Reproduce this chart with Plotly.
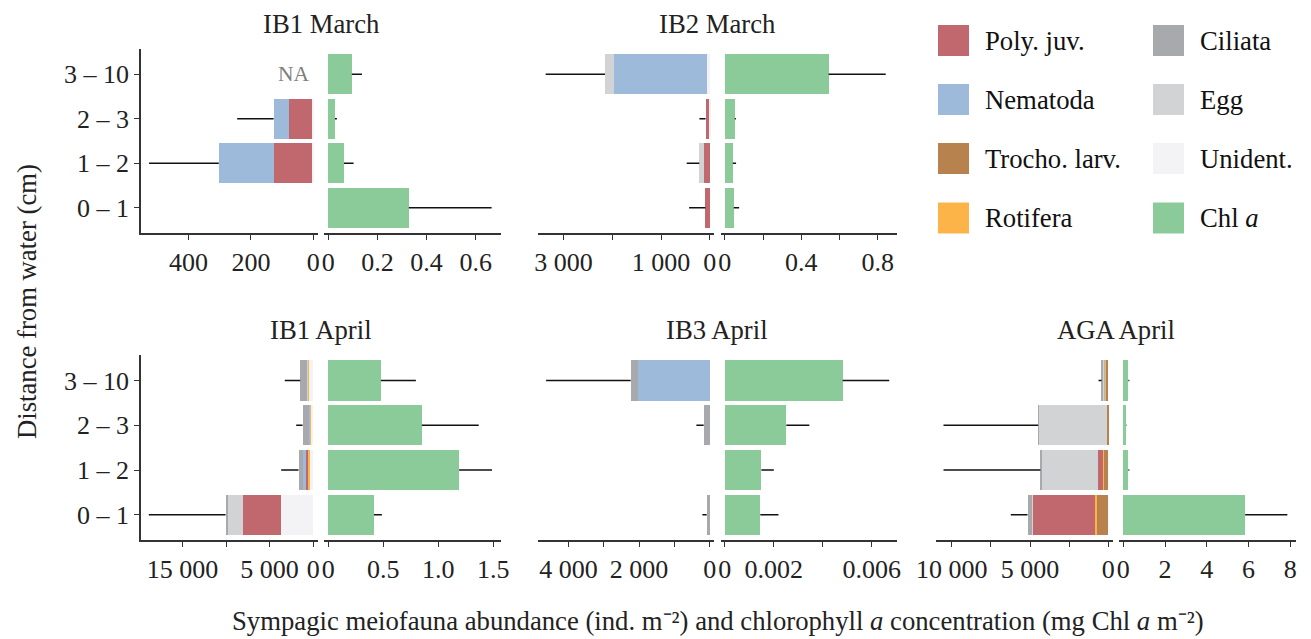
import plotly.graph_objects as go

# ---------------------------------------------------------------- data
DEPTHS = ["0 – 1", "1 – 2", "2 – 3", "3 – 10"]
DEPTH_POS = [0, 1, 2, 3]

# stacking order, from the zero line outwards
TAXA = ["Unident.", "Trocho. larv.", "Rotifera", "Poly. juv.", "Nematoda", "Egg", "Ciliata"]

COLORS = {
    "Poly. juv.": "#C0686E",
    "Nematoda": "#9EBADA",
    "Trocho. larv.": "#B7824E",
    "Rotifera": "#FCB448",
    "Ciliata": "#A8A9AD",
    "Egg": "#D2D3D5",
    "Unident.": "#F3F3F5",
    "Chl a": "#8BCB99",
}

# meiofauna abundance (ind. m-2) per depth class: 0-1, 1-2, 2-3, 3-10 cm
ib1_march_meio = {
    "Unident.": [0, 4, 4, None],
    "Poly. juv.": [0, 123, 74, None],
    "Nematoda": [0, 176, 49, None],
}
ib1_march_meio_sd = [None, 224, 117, None]
ib1_march_chl = [0.328, 0.064, 0.027, 0.096]
ib1_march_chl_sd = [0.337, 0.039, 0.008, 0.041]

ib2_march_meio = {
    "Unident.": [0, 0, 10, 62],
    "Poly. juv.": [88, 110, 75, 0],
    "Nematoda": [0, 0, 0, 1910],
    "Egg": [0, 103, 0, 178],
}
ib2_march_meio_sd = [335, 259, 126, 1218]
ib2_march_chl = [0.047, 0.042, 0.052, 0.543]
ib2_march_chl_sd = [0.028, 0.017, 0.006, 0.299]

ib1_april_meio = {
    "Unident.": [3745, 420, 300, 520],
    "Rotifera": [0, 268, 110, 120],
    "Poly. juv.": [4358, 115, 60, 30],
    "Nematoda": [0, 380, 50, 40],
    "Egg": [1758, 0, 0, 50],
    "Ciliata": [190, 500, 700, 730],
}
ib1_april_meio_sd = [8800, 1990, 730, 1770]
ib1_april_chl = [0.415, 1.189, 0.850, 0.478]
ib1_april_chl_sd = [0.072, 0.299, 0.517, 0.318]

ib3_april_meio = {
    "Nematoda": [0, 0, 0, 2040],
    "Ciliata": [85, 0, 170, 198],
}
ib3_april_meio_sd = [122, None, 207, 2397]
ib3_april_chl = [0.00145, 0.00149, 0.00251, 0.00481]
ib3_april_chl_sd = [0.00074, 0.00051, 0.00094, 0.0019]

aga_april_meio = {
    "Trocho. larv.": [703, 320, 85, 190],
    "Rotifera": [128, 30, 0, 30],
    "Poly. juv.": [4007, 320, 0, 20],
    "Nematoda": [0, 0, 0, 40],
    "Egg": [64, 3623, 4348, 60],
    "Ciliata": [256, 40, 40, 85],
}
aga_april_meio_sd = [1070, 6197, 6057, 195]
aga_april_chl = [5.84, 0.24, 0.14, 0.24]
aga_april_chl_sd = [2.02, 0.05, 0.02, 0.05]

# labelled ticks (values, labels) and unlabelled ticks per axis
ib1_march_meio_ticks = ([400, 200, 0], ["400", "200", "0"], [])
ib1_march_chl_ticks = ([0, 0.2, 0.4, 0.6], ["0", "0.2", "0.4", "0.6"], [])
ib2_march_meio_ticks = ([3000, 1000, 0], ["3 000", "1 000", "0"], [2000])
ib2_march_chl_ticks = ([0, 0.4, 0.8], ["0", "0.4", "0.8"], [0.2, 0.6])
ib1_april_meio_ticks = ([15000, 5000, 0], ["15 000", "5 000", "0"], [10000])
ib1_april_chl_ticks = ([0, 0.5, 1.0, 1.5], ["0", "0.5", "1.0", "1.5"], [])
ib3_april_meio_ticks = ([4000, 2000, 0], ["4 000", "2 000", "0"], [3000, 1000])
ib3_april_chl_ticks = ([0, 0.002, 0.006], ["0", "0.002", "0.006"], [0.004])
aga_april_meio_ticks = ([10000, 5000, 0], ["10 000", "5 000", "0"], [7500, 2500])
aga_april_chl_ticks = ([0, 2, 4, 6, 8], ["0", "2", "4", "6", "8"], [])

# ---------------------------------------------------------------- layout
W, H = 1311, 639
FONT = "Liberation Serif, Times New Roman, serif"
INK = "#222222"
AXIS = "#333333"


def fx(p):
    return p / W


def fy(p):
    return 1 - p / H


ROWS = [(49, 233), (355, 540.3)]
COL_X0 = [141, 537.5, 936]
MEIO_W, GAP, CHL_W = 176.5, 6.5, 176.7
ZERO_INSET = 4.3   # px between each zero line and the facing axis end

panels = [
    dict(title="IB1 March", row=0, col=0, meio=ib1_march_meio, meio_sd=ib1_march_meio_sd,
         chl=ib1_march_chl, chl_sd=ib1_march_chl_sd, meio_max=552.8, chl_max=0.702,
         meio_ticks=ib1_march_meio_ticks, chl_ticks=ib1_march_chl_ticks),
    dict(title="IB2 March", row=0, col=1, meio=ib2_march_meio, meio_sd=ib2_march_meio_sd,
         chl=ib2_march_chl, chl_sd=ib2_march_chl_sd, meio_max=3536, chl_max=0.902,
         meio_ticks=ib2_march_meio_ticks, chl_ticks=ib2_march_chl_ticks),
    dict(title="IB1 April", row=1, col=0, meio=ib1_april_meio, meio_sd=ib1_april_meio_sd,
         chl=ib1_april_chl, chl_sd=ib1_april_chl_sd, meio_max=19748, chl_max=1.567,
         meio_ticks=ib1_april_meio_ticks, chl_ticks=ib1_april_chl_ticks),
    dict(title="IB3 April", row=1, col=1, meio=ib3_april_meio, meio_sd=ib3_april_meio_sd,
         chl=ib3_april_chl, chl_sd=ib3_april_chl_sd, meio_max=4878, chl_max=0.007035,
         meio_ticks=ib3_april_meio_ticks, chl_ticks=ib3_april_chl_ticks),
    dict(title="AGA April", row=1, col=2, meio=aga_april_meio, meio_sd=aga_april_meio_sd,
         chl=aga_april_chl, chl_sd=aga_april_chl_sd, meio_max=11010, chl_max=8.26,
         meio_ticks=aga_april_meio_ticks, chl_ticks=aga_april_chl_ticks),
]

fig = go.Figure()
layout = dict(
    template="none",
    width=W, height=H,
    margin=dict(l=0, r=0, t=0, b=0, pad=0, autoexpand=False),
    paper_bgcolor="white", plot_bgcolor="white",
    barmode="stack", bargap=0.1,
    showlegend=False,
    font=dict(family=FONT, color=INK, size=26),
)
annotations = []
shapes = []


def error_segments(starts, sds):
    xs, ys = [], []
    for d, (s, e) in enumerate(zip(starts, sds)):
        if e is None or s is None:
            continue
        xs += [s, s + e, None]
        ys += [d, d, None]
    return xs, ys


def x_axis(domain, rng, ticks):
    vals, labels, extra = ticks
    ax = dict(
        domain=domain, range=rng, tickmode="array", tickvals=vals, ticktext=labels,
        ticks="outside", ticklen=5, tickwidth=1.3, tickcolor=AXIS,
        showline=True, linecolor=AXIS, linewidth=1.5,
        showgrid=False, zeroline=False, fixedrange=True, automargin=False,
        tickfont=dict(family=FONT, size=26, color=INK),
    )
    if extra:
        ax["minor"] = dict(tickmode="array", tickvals=extra, ticks="outside",
                           ticklen=5, tickwidth=1.3, tickcolor=AXIS, showgrid=False)
    return ax


for p, pan in enumerate(panels):
    n_m, n_c = 2 * p + 1, 2 * p + 2
    y_top, y_bot = ROWS[pan["row"]]
    x0 = COL_X0[pan["col"]]
    meio_dom = [fx(x0), fx(x0 + MEIO_W)]
    chl_dom = [fx(x0 + MEIO_W + GAP), fx(x0 + MEIO_W + GAP + CHL_W)]
    y_dom = [fy(y_bot), fy(y_top)]

    ax_m = "" if n_m == 1 else str(n_m)
    ax_c = str(n_c)

    # stacked meiofauna bars
    totals = [0.0] * 4
    has_data = [False] * 4
    for taxon in TAXA:
        vals = pan["meio"].get(taxon)
        if vals is None:
            continue
        for d, v in enumerate(vals):
            if v is not None:
                totals[d] += v
                has_data[d] = True
        fig.add_trace(go.Bar(
            x=vals, y=DEPTH_POS, orientation="h", width=0.9,
            marker=dict(color=COLORS[taxon], line=dict(width=0)),
            name=taxon, xaxis="x" + ax_m, yaxis="y" + ax_m, hoverinfo="x+name",
        ))
    starts = [t if h else None for t, h in zip(totals, has_data)]
    ex, ey = error_segments(starts, pan["meio_sd"])
    fig.add_trace(go.Scatter(x=ex, y=ey, mode="lines", line=dict(color="#111111", width=1.5),
                             xaxis="x" + ax_m, yaxis="y" + ax_m, hoverinfo="skip"))

    # chlorophyll a bars
    fig.add_trace(go.Bar(
        x=pan["chl"], y=DEPTH_POS, orientation="h", width=0.9,
        marker=dict(color=COLORS["Chl a"], line=dict(width=0)),
        name="Chl a", xaxis="x" + ax_c, yaxis="y" + ax_c, hoverinfo="x+name",
    ))
    ex, ey = error_segments(pan["chl"], pan["chl_sd"])
    fig.add_trace(go.Scatter(x=ex, y=ey, mode="lines", line=dict(color="#111111", width=1.5),
                             xaxis="x" + ax_c, yaxis="y" + ax_c, hoverinfo="skip"))

    meio_ppx = pan["meio_max"] / (MEIO_W - ZERO_INSET)
    chl_ppx = pan["chl_max"] / (CHL_W - ZERO_INSET)
    layout["xaxis" + ax_m] = dict(
        x_axis(meio_dom, [pan["meio_max"], -ZERO_INSET * meio_ppx], pan["meio_ticks"]),
        anchor="y" + ax_m)
    layout["xaxis" + ax_c] = dict(
        x_axis(chl_dom, [-ZERO_INSET * chl_ppx, pan["chl_max"]], pan["chl_ticks"]),
        anchor="y" + ax_c)

    first_col = pan["col"] == 0
    layout["yaxis" + ax_m] = dict(
        domain=y_dom, range=[-0.57, 3.57], anchor="x" + ax_m,
        tickmode="array", tickvals=DEPTH_POS, ticktext=DEPTHS, showticklabels=first_col,
        ticks="outside" if first_col else "", ticklen=5, tickwidth=1.3, tickcolor=AXIS,
        showline=first_col, linecolor=AXIS, linewidth=1.5,
        showgrid=False, zeroline=False, fixedrange=True, automargin=False,
        tickfont=dict(family=FONT, size=26, color=INK),
    )
    layout["yaxis" + ax_c] = dict(
        domain=y_dom, range=[-0.57, 3.57], anchor="x" + ax_c,
        showticklabels=False, showline=False, showgrid=False, zeroline=False,
        ticks="", fixedrange=True, automargin=False,
    )

    # panel title
    annotations.append(dict(
        text=pan["title"], xref="paper", yref="paper",
        x=fx(x0 + (MEIO_W + GAP + CHL_W) / 2), y=fy(y_top - 25),
        xanchor="center", yanchor="middle", showarrow=False,
        font=dict(family=FONT, size=26.7, color=INK),
    ))

# missing sample marker
annotations.append(dict(
    text="NA", xref="x", yref="y", x=62.6, y=3, showarrow=False,
    xanchor="center", yanchor="middle",
    font=dict(family=FONT, size=21.5, color="#7F7F7F"),
))

# legend, two columns
legend_cols = [
    ["Poly. juv.", "Nematoda", "Trocho. larv.", "Rotifera"],
    ["Ciliata", "Egg", "Unident.", "Chl a"],
]
legend_x = [938, 1153]
legend_row_top = [25, 84, 143, 202.5]
SW = 31
for c, items in enumerate(legend_cols):
    for r, key in enumerate(items):
        top = legend_row_top[r]
        shapes.append(dict(
            type="rect", xref="paper", yref="paper",
            x0=fx(legend_x[c]), x1=fx(legend_x[c] + SW),
            y0=fy(top + SW), y1=fy(top),
            fillcolor=COLORS[key], line=dict(width=0),
        ))
        label = "Chl <i>a</i>" if key == "Chl a" else key
        annotations.append(dict(
            text=label, xref="paper", yref="paper",
            x=fx(legend_x[c] + SW + 14), y=fy(top + SW / 2),
            xanchor="left", yanchor="middle", showarrow=False,
            font=dict(family=FONT, size=26.7, color="#111111"),
        ))

# axis titles (superscripts as Unicode characters)
annotations.append(dict(
    text="Sympagic meiofauna abundance (ind. m\u207b\u00b2) and chlorophyll <i>a</i> "
         "concentration (mg Chl <i>a</i> m\u207b\u00b2)",
    xref="paper", yref="paper", x=fx(718.4), y=fy(621),
    xanchor="center", yanchor="middle", showarrow=False,
    font=dict(family=FONT, size=26.7, color=INK),
))
annotations.append(dict(
    text="Distance from water (cm)", textangle=-90,
    xref="paper", yref="paper", x=fx(27), y=fy(302),
    xanchor="center", yanchor="middle", showarrow=False,
    font=dict(family=FONT, size=26.7, color=INK),
))

layout["annotations"] = annotations
layout["shapes"] = shapes
fig.update_layout(**layout)
fig.write_html("out.html")
